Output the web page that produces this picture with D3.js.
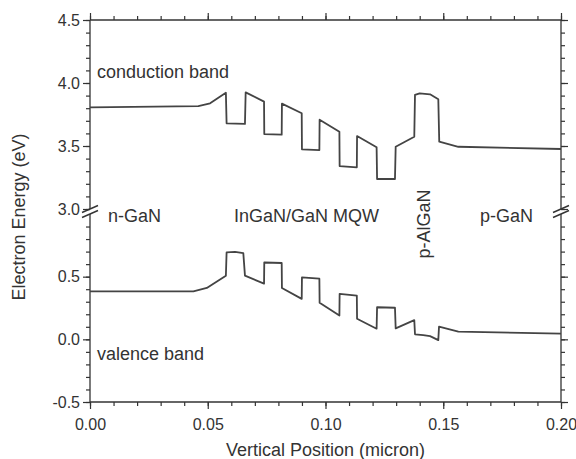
<!DOCTYPE html>
<html>
<head>
<meta charset="utf-8">
<script src="https://cdn.jsdelivr.net/npm/d3@7"></script>
<style>
  body { margin: 0; background: #fff; }
  text { font-family: "Liberation Sans", Arial, Helvetica, sans-serif; fill: #333; }
</style>
</head>
<body>
<div id="chart"></div>
<script>
// conduction band (eV) vs vertical position (micron)
const cbX = [0, 0.046, 0.051, 0.0577, 0.058, 0.0658, 0.0661, 0.0739, 0.074, 0.0814, 0.0815,
  0.0899, 0.090, 0.0974, 0.0975, 0.1059, 0.106, 0.1133, 0.1134, 0.1217, 0.1219, 0.1295,
  0.1298, 0.1377, 0.138, 0.140, 0.1444, 0.1479, 0.1483, 0.1564, 0.2];
const cbE = [3.807, 3.817, 3.839, 3.923, 3.680, 3.675, 3.926, 3.852, 3.595, 3.590, 3.836,
  3.760, 3.474, 3.468, 3.709, 3.613, 3.341, 3.331, 3.579, 3.490, 3.238, 3.238,
  3.494, 3.574, 3.905, 3.918, 3.910, 3.871, 3.534, 3.494, 3.476];

// valence band
const vbX = [0, 0.0439, 0.0496, 0.0577, 0.058, 0.0616, 0.0651, 0.0658, 0.0739, 0.074, 0.0814,
  0.0815, 0.0899, 0.090, 0.0974, 0.0975, 0.1059, 0.106, 0.1133, 0.1134, 0.1217, 0.1219,
  0.1295, 0.1298, 0.1377, 0.138, 0.1415, 0.1444, 0.1479, 0.1482, 0.1564, 0.2];
const vbE = [0.383, 0.383, 0.410, 0.508, 0.693, 0.698, 0.688, 0.508, 0.444, 0.613, 0.609,
  0.410, 0.323, 0.494, 0.484, 0.291, 0.190, 0.363, 0.349, 0.164, 0.085, 0.256,
  0.252, 0.087, 0.153, 0.040, 0.034, 0.026, -0.006, 0.101, 0.061, 0.045];

const xTicks = [0, 0.05, 0.10, 0.15, 0.20];
const yTicksUpper = [3.0, 3.5, 4.0, 4.5];
const yTicksLower = [-0.5, 0.0, 0.5];

const width = 576, height = 459;
const mLeft = 90, mRight = 561, mTop = 20, mBottom = 402;

let svg = d3.select("#chart")
    .append("svg")
    .attr("width", width)
    .attr("height", height);

let x = d3.scaleLinear().domain([0, 0.2]).range([mLeft, mRight]);
// broken y axis: two pieces with the same eV/px
let yUp = d3.scaleLinear().domain([3.0, 4.5]).range([209, mTop]);
let yLo = d3.scaleLinear().domain([-0.5, 1.0]).range([mBottom, 214]);

let xMinor = d3.range(0, 0.2001, 0.01);
let upMinor = d3.range(3.0, 4.5001, 0.1);
let loMinor = d3.range(-0.5, 0.95, 0.1);

// plain hyphen for negatives, like the original
let fmt1 = d => d3.format(".1f")(d).replace("\u2212", "-");
let fmt2 = d => d3.format(".2f")(d);

function addAxis(axis, tx, ty) {
    let g = svg.append("g")
        .attr("transform", "translate(" + tx + "," + ty + ")")
        .attr("color", "#333")
        .call(axis);
    g.select(".domain").remove();
    g.selectAll("line").attr("stroke-width", 1.2);
    g.selectAll("text").style("font-size", "16px").attr("fill", "#3a3a3a");
    return g;
}

// bottom + top
addAxis(d3.axisBottom(x).tickValues(xMinor).tickSize(4).tickFormat(""), 0, mBottom);
addAxis(d3.axisBottom(x).tickValues(xTicks).tickSize(7).tickPadding(10).tickFormat(fmt2), 0, mBottom);
addAxis(d3.axisTop(x).tickValues(xMinor).tickSize(4).tickFormat(""), 0, mTop);
addAxis(d3.axisTop(x).tickValues(xTicks).tickSize(7).tickFormat(""), 0, mTop);

// left
addAxis(d3.axisLeft(yUp).tickValues(upMinor).tickSize(4).tickFormat(""), mLeft, 0);
addAxis(d3.axisLeft(yUp).tickValues(yTicksUpper).tickSize(7).tickPadding(3).tickFormat(fmt1), mLeft, 0);
addAxis(d3.axisLeft(yLo).tickValues(loMinor).tickSize(4).tickFormat(""), mLeft, 0);
addAxis(d3.axisLeft(yLo).tickValues(yTicksLower).tickSize(7).tickPadding(3).tickFormat(fmt1), mLeft, 0);

// right
addAxis(d3.axisRight(yUp).tickValues(upMinor).tickSize(4).tickFormat(""), mRight, 0);
addAxis(d3.axisRight(yUp).tickValues(yTicksUpper).tickSize(7).tickFormat(""), mRight, 0);
addAxis(d3.axisRight(yLo).tickValues(loMinor).tickSize(4).tickFormat(""), mRight, 0);
addAxis(d3.axisRight(yLo).tickValues(yTicksLower).tickSize(7).tickFormat(""), mRight, 0);

// frame lines (split at the break)
let frame = [
    [mLeft, mTop, mRight, mTop],
    [mLeft, mBottom, mRight, mBottom],
    [mLeft, mTop, mLeft, yUp(3.0)],
    [mLeft, yLo(1.0), mLeft, mBottom],
    [mRight, mTop, mRight, yUp(3.0)],
    [mRight, yLo(1.0), mRight, mBottom]
];
svg.selectAll(".frame").data(frame).enter().append("line")
    .attr("class", "frame")
    .attr("x1", d => d[0]).attr("y1", d => d[1])
    .attr("x2", d => d[2]).attr("y2", d => d[3])
    .attr("stroke", "#333")
    .attr("stroke-width", 1.3);

// break marks
[mLeft, mRight].forEach(function (ax) {
    [yUp(3.0), yLo(1.0)].forEach(function (cy) {
        svg.append("line")
            .attr("x1", ax - 8).attr("y1", cy + 3.5)
            .attr("x2", ax + 8).attr("y2", cy - 3.5)
            .attr("stroke", "#333")
            .attr("stroke-width", 1.4);
    });
});

// bands
let cbLine = d3.line().x(d => x(d[0])).y(d => yUp(d[1]));
let vbLine = d3.line().x(d => x(d[0])).y(d => yLo(d[1]));

svg.append("path")
    .datum(d3.zip(cbX, cbE))
    .attr("d", cbLine)
    .attr("fill", "none")
    .attr("stroke", "#444")
    .attr("stroke-width", 1.8)
    .attr("stroke-linejoin", "round");

svg.append("path")
    .datum(d3.zip(vbX, vbE))
    .attr("d", vbLine)
    .attr("fill", "none")
    .attr("stroke", "#444")
    .attr("stroke-width", 1.8)
    .attr("stroke-linejoin", "round");

// annotations
let notes = [
    {t: "conduction band", x: 97, y: 78},
    {t: "n-GaN", x: 108, y: 222},
    {t: "InGaN/GaN MQW", x: 234, y: 222},
    {t: "p-GaN", x: 480, y: 222},
    {t: "valence band", x: 97, y: 360}
];
svg.selectAll(".note").data(notes).enter().append("text")
    .attr("class", "note")
    .attr("x", d => d.x)
    .attr("y", d => d.y)
    .style("font-size", "18px")
    .text(d => d.t);

svg.append("text")
    .attr("transform", "translate(430,224) rotate(-90)")
    .attr("text-anchor", "middle")
    .style("font-size", "18px")
    .text("p-AlGaN");

// axis titles
svg.append("text")
    .attr("x", (mLeft + mRight) / 2)
    .attr("y", 456)
    .attr("text-anchor", "middle")
    .style("font-size", "18px")
    .text("Vertical Position (micron)");

svg.append("text")
    .attr("transform", "translate(25,217) rotate(-90)")
    .attr("text-anchor", "middle")
    .style("font-size", "18px")
    .text("Electron Energy (eV)");
</script>
</body>
</html>
